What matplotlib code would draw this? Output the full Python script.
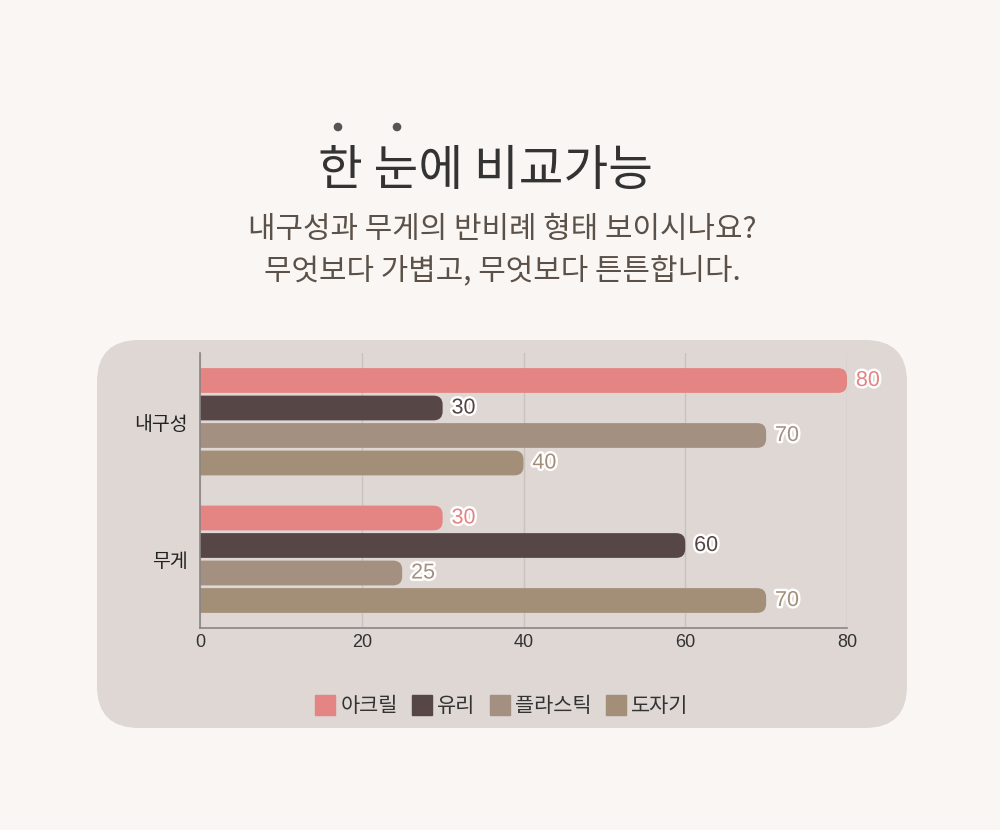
import matplotlib.pyplot as plt
import matplotlib.patheffects as pe
from matplotlib.patches import FancyBboxPatch, Circle
from matplotlib.lines import Line2D

plt.rcParams['font.family'] = ['Noto Sans CJK KR', 'DejaVu Sans']

# 데이터
categories = ['내구성', '무게']
series_names = ['아크릴', '유리', '플라스틱', '도자기']
acrylic = [80, 30]
glass = [30, 60]
plastic = [70, 25]
ceramic = [40, 70]
series_values = [acrylic, glass, plastic, ceramic]
colors = ['#e48483', '#564646', '#a39081', '#a38f77']
x_ticks = [0, 20, 40, 60, 80]

W, H = 1000, 830
fig = plt.figure(figsize=(W / 100, H / 100), dpi=100, facecolor='#f9f6f3')

# 배경 (픽셀 좌표)
bg = fig.add_axes([0, 0, 1, 1], zorder=0)
bg.set_xlim(0, W)
bg.set_ylim(H, 0)
bg.axis('off')
bg.add_patch(FancyBboxPatch((97, 340), 810, 388,
                            boxstyle='round,pad=0,rounding_size=42',
                            fc='#ded7d4', ec='none'))
for cx in (338, 397):
    bg.add_patch(Circle((cx, 127), 3.6, color='#555555'))
bg.text(486, 171, '한 눈에 비교가능', ha='center', va='center',
        fontsize=35, color='#333333')
bg.text(502, 229, '내구성과 무게의 반비례 형태 보이시나요?', ha='center',
        va='center', fontsize=21.5, color='#5c5148')
bg.text(502, 271, '무엇보다 가볍고, 무엇보다 튼튼합니다.', ha='center',
        va='center', fontsize=21.5, color='#5c5148')

# 막대 그래프
left, right, top, bottom = 200, 847, 353, 628
ax = fig.add_axes([left / W, 1 - bottom / H, (right - left) / W, (bottom - top) / H],
                  zorder=1)
ax.patch.set_alpha(0)
ax.set_xlim(0, 80)
ax.set_ylim(1.5, -0.5)

px_x = (right - left) / 80
px_y = (bottom - top) / 2
r_px = 9
aspect = px_x / px_y
slot = 0.2
bar_h = 0.18

for i, (name, vals, col) in enumerate(zip(series_names, series_values, colors)):
    for j, v in enumerate(vals):
        yc = j + (i - 1.5) * slot
        p = FancyBboxPatch((-3, yc - bar_h / 2), v + 3, bar_h,
                           boxstyle=f'round,pad=0,rounding_size={r_px / px_x}',
                           mutation_aspect=aspect, fc=col, ec='none', zorder=2)
        ax.add_patch(p)
        ax.text(v + 1.1, yc, str(v), va='center', ha='left', fontsize=15.5,
                color=col, family=['Liberation Sans', 'DejaVu Sans'], zorder=4,
                clip_on=False,
                path_effects=[pe.withStroke(linewidth=3.5, foreground='white')])

ax.set_xticks(x_ticks)
ax.set_xticklabels([str(t) for t in x_ticks], family=['Liberation Sans', 'DejaVu Sans'],
                   fontsize=13, color='#333333')
ax.set_yticks(range(len(categories)))
ax.set_yticklabels(categories, fontsize=14, color='#222222')
ax.tick_params(axis='both', length=0)
ax.tick_params(axis='x', pad=4)
ax.tick_params(axis='y', pad=9)
ax.grid(axis='x', color='#c9c3c0', linewidth=1, zorder=0)
ax.set_axisbelow(True)
for s in ('top', 'right'):
    ax.spines[s].set_visible(False)
for s in ('left', 'bottom'):
    ax.spines[s].set_color('#8a8584')
    ax.spines[s].set_linewidth(1.2)

handles = [Line2D([], [], marker='s', linestyle='none', markersize=14,
                  markerfacecolor=c, markeredgecolor=c) for c in colors]
fig.legend(handles, series_names, loc='center', bbox_to_anchor=(0.502, 1 - 706 / H),
           ncol=4, frameon=False, fontsize=15, handletextpad=0.3,
           columnspacing=0.7, handlelength=0.9, labelcolor='#333333')

fig.savefig('out.png', dpi=100, facecolor=fig.get_facecolor())
